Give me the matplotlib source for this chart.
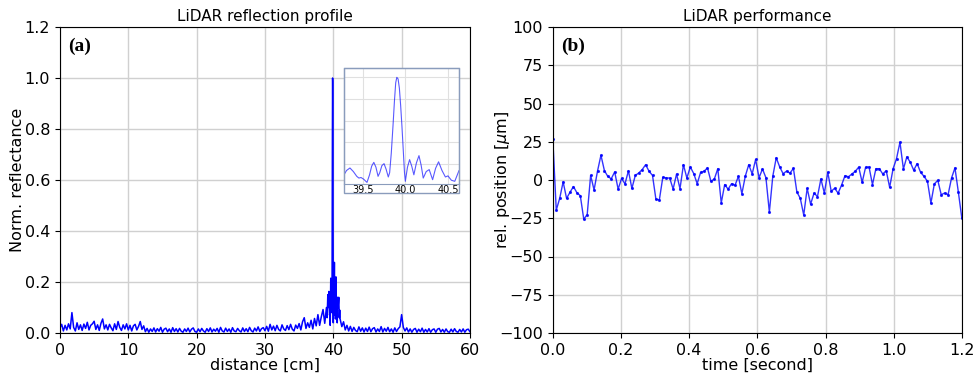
import numpy as np
import matplotlib
matplotlib.use("Agg")
import matplotlib.pyplot as plt
from matplotlib.patches import Rectangle

# ---- (a) reflection profile, values in 1/1000 of peak ----
step = 0.25
refl_before = [
    20, 34, 8, 30, 12, 36, 16, 80, 22, 8, 40, 14, 32, 10, 35, 18,
    42, 12, 30, 36, 46, 14, 32, 10, 38, 55, 16, 32, 12, 34, 20, 9,
    36, 14, 45, 22, 10, 32, 16, 36, 12, 30, 8, 28, 34, 12, 26, 45,
    14, 28, 5, 18, 3, 16, 6, 20, 4, 17, 7, 22, 3, 15, 19, 5,
    16, 3, 21, 6, 17, 4, 18, 7, 3, 16, 6, 19, 4, 15, 20, 6,
    3, 16, 5, 18, 8, 3, 17, 6, 20, 4, 15, 7, 18, 3, 22, 8,
    4, 19, 6, 16, 3, 21, 8, 5, 18, 9, 4, 20, 6, 17, 5, 22,
    9, 4, 19, 8, 24, 6, 17, 21, 9, 26, 7, 34, 12, 27, 9, 30,
    14, 8, 32, 16, 10, 29, 13, 34, 15, 8, 31, 18, 37, 12, 44, 60,
    18, 40, 22, 50, 16, 57, 28, 72, 30, 64, 92, 38, 100,
]
refl_after = [
    55, 25, 44, 12, 30, 8, 26, 6, 22, 10, 5, 24, 7, 20, 4, 19,
    6, 23, 5, 17, 21, 4, 16, 6, 25, 4, 18, 7, 22, 5, 16, 3,
    20, 6, 17, 24, 72, 22, 8, 20, 4, 16, 3, 14, 18, 3, 15, 5,
    19, 3, 14, 4, 17, 3, 13, 16, 3, 15, 18, 4, 14, 3, 16, 5,
    3, 15, 4, 17, 6, 3, 14, 4, 16, 3, 13, 15, 5,
]
after_start = 41.0

# target peak with side lobes (also shown in the inset)
dist_peak = [39.10, 39.20, 39.28, 39.31, 39.35, 39.39, 39.43, 39.455, 39.48,
             39.51, 39.55, 39.58, 39.605, 39.63, 39.655, 39.68, 39.70, 39.725,
             39.75, 39.775, 39.80, 39.816, 39.835, 39.855, 39.872, 39.887,
             39.90, 39.915, 39.93, 39.945, 39.96, 39.975, 39.99, 40.00,
             40.025, 40.05, 40.075, 40.10, 40.13, 40.16, 40.185, 40.21,
             40.245, 40.28, 40.30, 40.32, 40.355, 40.39, 40.43, 40.47,
             40.50, 40.54, 40.58, 40.63, 40.70, 40.80, 40.88, 40.94]
refl_peak = [0.06, 0.15, 0.10, 0.14, 0.163, 0.13, 0.086, 0.07, 0.075,
             0.06, 0.03, 0.10, 0.18, 0.215, 0.17, 0.086, 0.12, 0.185,
             0.203, 0.15, 0.08, 0.12, 0.30, 0.55, 0.78, 0.95,
             1.0, 0.985, 0.90, 0.74, 0.55, 0.33, 0.12, 0.04,
             0.17, 0.24, 0.18, 0.10, 0.21, 0.277, 0.19, 0.07,
             0.13, 0.148, 0.10, 0.055, 0.16, 0.22, 0.14, 0.08,
             0.09, 0.05, 0.04, 0.14, 0.10, 0.14, 0.06, 0.09]

# ---- (b) position over time, in um ----
pos = [
    26.5, -19.7, -12, -1.2, -12, -8, -4.3, -8.3, -10.3, -25.6,
    -22.6, 3, -6.5, 5.8, 16.2, 6.2, 2.3, 0.8, 5.3, -6,
    1, -2.5, 6, -5.5, 3, 4.6, 6.8, 10, 5.7, 3,
    -12.7, -12.9, 1.8, 1.3, 1.3, -5.9, 3.9, -5.7, 10, 1.3,
    8.5, 4.2, -2.4, 5, 5.7, 7.9, -0.9, 0.7, 7.4, -15,
    -3, -6, -2.4, -3.5, 2.4, -9, 2.5, 10, 4, 13.4,
    1.5, 7.2, 1.5, -21, 2.5, 14.5, 8.6, 4.1, 5.8, 4.5,
    7.6, -7.8, -12, -22.9, -5.4, -15.8, -8.6, -10.8, 0.7, -8.6,
    5.1, -7.4, -5.4, -8.6, -3.4, 2.8, 2.1, 3.9, 5.7, 8.4,
    -1.5, 8.3, 8.5, -3, 7.4, 7.4, 3.9, 6.1, -4.8, 7.4,
    14, 24.7, 7.2, 15.1, 11.6, 6.4, 10.7, 5, 2.4, -0.9,
    -15.1, -2.6, -0.2, -9.6, -8.5, -9.6, 1.3, 7.9, -8.1, -25,
]
t_end = 1.2

dist = np.concatenate([np.arange(len(refl_before)) * step,
                       np.array(dist_peak),
                       after_start + np.arange(len(refl_after)) * step])
refl = np.concatenate([np.array(refl_before) / 1000.0,
                       np.array(refl_peak),
                       np.array(refl_after) / 1000.0])
t = np.linspace(0, t_end, len(pos))

fig = plt.figure(figsize=(9.75, 3.75), dpi=100)
fs = 11.5
serif = ['Liberation Serif', 'DejaVu Serif']

ax1 = fig.add_axes([0.0615, 0.112, 0.4205, 0.816])
ax1.plot(dist, refl, color='blue', lw=1.1)
ax1.set_xlim(0, 60)
ax1.set_ylim(0, 1.2)
ax1.set_xticks(np.arange(0, 61, 10))
ax1.set_yticks(np.arange(0, 1.21, 0.2))
ax1.grid(True, color='#d0d0d0', lw=1)
ax1.set_axisbelow(True)
ax1.set_title('LiDAR reflection profile', fontsize=11, pad=4)
ax1.set_xlabel('distance [cm]', fontsize=fs, labelpad=0)
ax1.set_ylabel('Norm. reflectance', fontsize=fs, labelpad=0)
ax1.tick_params(labelsize=fs)
ax1.text(0.02, 0.965, '(a)', transform=ax1.transAxes, fontsize=14,
         fontweight='bold', family=serif, va='top', ha='left')

# inset zoom on the peak
axi = fig.add_axes([0.3528, 0.5093, 0.118, 0.309])
axi.plot(dist, refl, color='blue', lw=0.8, alpha=0.65)
axi.set_xlim(39.28, 40.63)
axi.set_ylim(0.015, 1.085)
axi.set_xticks([39.5, 40.0, 40.5])
axi.set_yticks(np.arange(0.2, 1.01, 0.2))
axi.set_yticklabels([])
axi.tick_params(axis='both', length=0, labelsize=7, pad=0.5)
axi.grid(True, color='#e0e0e0', lw=0.8)
for sp in axi.spines.values():
    sp.set_color('#8a9cbc')
fig.add_artist(Rectangle((0.3528, 0.4853), 0.118, 0.309 + 0.024,
                         transform=fig.transFigure, fill=False,
                         edgecolor='#8a9cbc', lw=1))

ax2 = fig.add_axes([0.567, 0.112, 0.4195, 0.816])
ax2.plot(t, pos, color='blue', lw=1, alpha=0.8, marker='.', ms=2.5)
ax2.set_xlim(0, 1.2)
ax2.set_ylim(-100, 100)
ax2.set_xticks(np.arange(0, 1.21, 0.2))
ax2.set_yticks(np.arange(-100, 101, 25))
ax2.grid(True, color='#d0d0d0', lw=1)
ax2.set_axisbelow(True)
ax2.set_title('LiDAR performance', fontsize=11, pad=4)
ax2.set_xlabel('time [second]', fontsize=fs, labelpad=0)
ax2.set_ylabel(r'rel. position [$\mu$m]', fontsize=fs, labelpad=-9.5)
ax2.tick_params(labelsize=fs)
ax2.text(0.02, 0.965, '(b)', transform=ax2.transAxes, fontsize=14,
         fontweight='bold', family=serif, va='top', ha='left')

fig.savefig('out.png', dpi=100)
